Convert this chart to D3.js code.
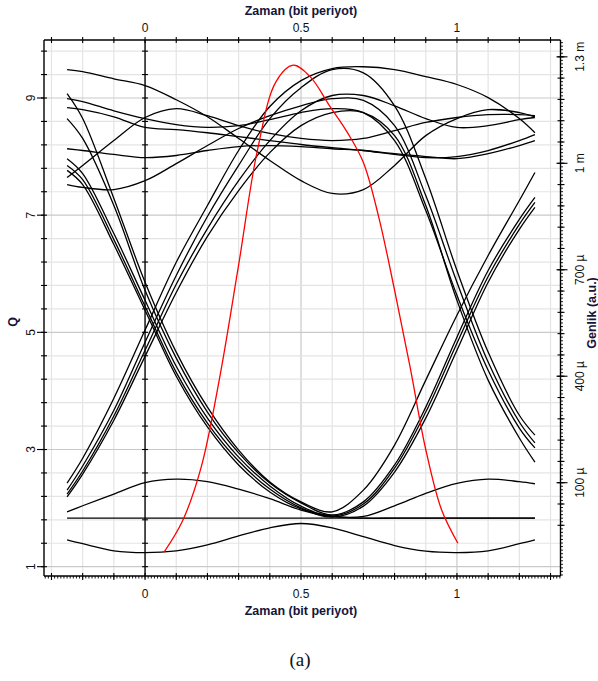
<!DOCTYPE html>
<html><head><meta charset="utf-8">
<script src="https://cdn.jsdelivr.net/npm/d3@7"></script>
<style>body{margin:0;background:#fff} svg{display:block}</style>
</head><body>
<svg id="c" width="598" height="681"></svg>
<script>
// ---------------- DATA ----------------
// time (bit periods) sampling of every eye trace
const timeGrid = [-0.25,-0.2,-0.1,0,0.1,0.2,0.3,0.4,0.5,0.6,0.7,0.8,0.9,1.0,1.1,1.2,1.25];
// eye traces, amplitude in micro a.u. (right axis)
const traceA  = [1264,1258,1238,1219,1179,1131,1070,1008,951,915,926,994,1078,1126,1151,1143,1131];
const traceB  = [1182,1174,1148,1126,1109,1101,1106,1123,1143,1154,1143,1064,867,628,417,254,198];
const traceC  = [1157,1151,1131,1101,1095,1086,1075,1064,1053,1044,1036,1025,1016,1019,1036,1064,1081];
const traceD  = [1041,1036,1025,1016,1022,1036,1047,1050,1047,1041,1036,1027,1019,1013,1027,1050,1064];
const traceE  = [940,932,926,951,999,1050,1098,1134,1162,1182,1177,1106,909,665,440,271,212];
const traceF  = [960,994,1064,1129,1154,1134,1106,1084,1070,1064,1070,1092,1115,1129,1137,1137,1134];
const traceR1 = [99,169,338,530,721,881,1036,1160,1233,1267,1272,1264,1244,1222,1185,1126,1086];
const traceR2 = [79,147,304,496,684,850,994,1126,1213,1264,1255,1162,957,698,468,290,234];
const traceR3 = [68,133,288,473,659,816,951,1064,1148,1191,1191,1162,1126,1101,1106,1123,1129];
const traceR4 = [60,124,276,456,636,794,923,1030,1106,1143,1143,1078,881,614,389,226,158];
const traceF1 = [1196,1126,901,665,468,313,192,102,46,18,79,206,389,572,740,895,974];
const traceF2 = [1126,1070,881,642,451,299,184,99,43,9,46,150,313,510,698,842,904];
const traceF3 = [1013,971,802,614,428,282,172,91,34,6,40,141,299,493,681,828,890];
const traceF4 = [994,954,785,597,411,268,161,82,29,3,34,130,282,473,665,814,876];
const traceF5 = [980,940,771,586,400,257,150,74,26,6,0,0,0,0,0,0,0];
const traceZero = [0,0,0,0,0,0,0,0,0,0,0,0,0,0,0,0,0];
const traceBump = [18,35,68,100,110,103,82,55,23,5,5,35,70,98,110,103,97];
const traceLow  = [-61,-72,-92,-97,-92,-75,-50,-27,-15,-27,-52,-77,-93,-97,-92,-72,-61];
const eyeTraces = [traceA,traceB,traceC,traceD,traceE,traceF,traceR1,traceR2,traceR3,traceR4,
                   traceF1,traceF2,traceF3,traceF4,traceF5,traceZero,traceBump,traceLow];

// Q factor vs decision instant (left axis)
const qTime   = [0.061,0.12,0.18,0.24,0.30,0.36,0.42,0.475,0.53,0.59,0.65,0.70,0.75,0.80,0.85,0.90,0.95,1.003];
const qValues = [1.25,1.78,2.70,4.25,6.15,8.10,9.28,9.56,9.36,8.88,8.40,7.90,6.95,5.72,4.40,3.00,1.98,1.40];

// tick labels
const xTickValues = [0,0.5,1];
const qTickValues = [1,3,5,7,9];
const ampTickValues = [100,400,700,1000,1300];
const ampTickLabels = ["100 \u00b5","400 \u00b5","700 \u00b5","1 m","1.3 m"];
const xTitle = "Zaman (bit periyot)";
const qTitle = "Q";
const ampTitle = "Genlik (a.u.)";
const caption = "(a)";

// ---------------- LAYOUT ----------------
const L = 44, R = 560.5, T = 40, B = 576;
const FONT = "'Liberation Sans', Arial, sans-serif";
const svg = d3.select("#c");
svg.append("rect").attr("width",598).attr("height",681).attr("fill","#fff");

const x = d3.scaleLinear().domain([-0.324, 1.332]).range([L, R]);
const q = d3.scaleLinear().domain([0.841, 9.99]).range([B, T]);
const amp = d3.scaleLinear().domain([-162.9, 1347.4]).range([B, T]);

const near = (a,b)=>Math.abs(a-b)<1e-6;

// grid
const xGrid = d3.range(-3, 14).map(i => i/10);
const qGrid = d3.range(0, 23).map(i => 1 + 0.4*i);
const g = svg.append("g");
g.selectAll("line.vx").data(xGrid).join("line")
  .attr("x1", d=>x(d)).attr("x2", d=>x(d)).attr("y1", T).attr("y2", B)
  .attr("stroke", d => xTickValues.some(v=>near(v,d)) ? "#c9c9c9" : "#e4e4e4")
  .attr("stroke-width", 1.2);
g.selectAll("line.hy").data(qGrid).join("line")
  .attr("y1", d=>q(d)).attr("y2", d=>q(d)).attr("x1", L).attr("x2", R)
  .attr("stroke", d => qTickValues.some(v=>near(v,d)) ? "#c9c9c9" : "#e4e4e4")
  .attr("stroke-width", 1.2);

// clip
svg.append("clipPath").attr("id","clip").append("rect")
  .attr("x",L).attr("y",T).attr("width",R-L).attr("height",B-T);

// zero vertical line (axis at t = 0)
svg.append("line").attr("x1",x(0)).attr("x2",x(0)).attr("y1",T).attr("y2",B)
  .attr("stroke","#000").attr("stroke-width",1.3);
svg.append("g").selectAll("line").data(qGrid).join("line")
  .attr("x1",x(0)-3).attr("x2",x(0)+3).attr("y1",d=>q(d)).attr("y2",d=>q(d))
  .attr("stroke","#000").attr("stroke-width",1.1);

// eye traces
const eyeLine = d3.line().x((d,i)=>x(timeGrid[i])).y(d=>amp(d)).curve(d3.curveCatmullRom.alpha(0.5));
svg.append("g").attr("clip-path","url(#clip)").selectAll("path").data(eyeTraces).join("path")
  .attr("d", eyeLine).attr("fill","none").attr("stroke","#000").attr("stroke-width",1.3);

// Q curve
const qLine = d3.line().x((d,i)=>x(qTime[i])).y(d=>q(d)).curve(d3.curveCatmullRom.alpha(0.5));
svg.append("path").datum(qValues).attr("d", qLine).attr("fill","none")
  .attr("stroke","#ff0000").attr("stroke-width",1.3).attr("clip-path","url(#clip)");

// frame
const fr = svg.append("g").attr("stroke","#000").attr("stroke-width",1.4);
fr.append("line").attr("x1",L).attr("x2",R).attr("y1",T).attr("y2",T);
fr.append("line").attr("x1",L).attr("x2",R).attr("y1",B).attr("y2",B);
fr.append("line").attr("x1",L).attr("x2",L).attr("y1",T).attr("y2",B);
fr.append("line").attr("x1",R).attr("x2",R).attr("y1",T).attr("y2",B);

const tk = svg.append("g").attr("stroke","#000").attr("stroke-width",1.1);
// top ticks
tk.selectAll("line.t").data(xGrid).join("line").attr("class","t")
  .attr("x1",d=>x(d)).attr("x2",d=>x(d)).attr("y1",T-3).attr("y2",T+3);
// bottom ticks: major every 0.1, minor every 0.01
const xMinor = d3.range(-32, 134).map(i=>i/100);
svg.append("g").attr("stroke","#000").attr("stroke-width",0.9).selectAll("line").data(xMinor).join("line")
  .attr("x1",d=>x(d)).attr("x2",d=>x(d)).attr("y1",B).attr("y2",B+2.5);
tk.selectAll("line.b").data(xGrid).join("line").attr("class","b")
  .attr("x1",d=>x(d)).attr("x2",d=>x(d)).attr("y1",B-3).attr("y2",B+4);
// left ticks
tk.selectAll("line.l").data(qGrid).join("line").attr("class","l")
  .attr("x1",L-3).attr("x2",L+3).attr("y1",d=>q(d)).attr("y2",d=>q(d));
tk.selectAll("line.lm").data(qTickValues).join("line").attr("class","lm")
  .attr("x1",L-7).attr("x2",L).attr("y1",d=>q(d)).attr("y2",d=>q(d));
// right ticks: minor every 10 µ, medium every 60 µ, major at labels
const ampMinor = d3.range(-16, 135).map(i=>i*10);
const ampMid = d3.range(-2, 23).map(i=>100 + i*60);
svg.append("g").attr("stroke","#000").attr("stroke-width",0.9).selectAll("line").data(ampMinor).join("line")
  .attr("x1",R).attr("x2",R+2.5).attr("y1",d=>amp(d)).attr("y2",d=>amp(d));
tk.selectAll("line.rm").data(ampMid.filter(d=>amp(d)>=T && amp(d)<=B)).join("line").attr("class","rm")
  .attr("x1",R-3).attr("x2",R+4).attr("y1",d=>amp(d)).attr("y2",d=>amp(d));
tk.selectAll("line.rM").data(ampTickValues).join("line").attr("class","rM")
  .attr("x1",R-4).attr("x2",R+7).attr("y1",d=>amp(d)).attr("y2",d=>amp(d));

// tick labels
const lab = svg.append("g").attr("font-family",FONT).attr("font-size",12).attr("fill","#111");
const fmt = d => d===0.5 ? "0.5" : String(d);
lab.selectAll("text.top").data(xTickValues).join("text").attr("class","top")
  .attr("x",d=>x(d)).attr("y",32).attr("text-anchor","middle").text(fmt);
lab.selectAll("text.bot").data(xTickValues).join("text").attr("class","bot")
  .attr("x",d=>x(d)).attr("y",597.5).attr("text-anchor","middle").text(fmt);
lab.selectAll("text.lq").data(qTickValues).join("text").attr("class","lq")
  .attr("transform",d=>`translate(35,${q(d)}) rotate(-90)`).attr("text-anchor","middle").text(d=>d);
lab.selectAll("text.ra").data(ampTickValues).join("text").attr("class","ra")
  .attr("transform",d=>`translate(584,${amp(d)}) rotate(-90)`).attr("text-anchor","middle")
  .text((d,i)=>ampTickLabels[i]);

// titles
const tt = svg.append("g").attr("font-family",FONT).attr("font-size",12.5).attr("font-weight","bold").attr("fill","#14143a");
tt.append("text").attr("x",301).attr("y",15).attr("text-anchor","middle").text(xTitle);
tt.append("text").attr("x",301).attr("y",615).attr("text-anchor","middle").text(xTitle);
tt.append("text").attr("transform","translate(17,322) rotate(-90)").attr("text-anchor","middle").text(qTitle);
tt.append("text").attr("transform",`translate(596,313) rotate(-90)`).attr("text-anchor","middle").text(ampTitle);

svg.append("text").attr("x",300).attr("y",666).attr("text-anchor","middle")
  .attr("font-family","'Liberation Serif', 'Times New Roman', serif").attr("font-size",19).attr("fill","#111")
  .text(caption);
</script>
</body></html>
